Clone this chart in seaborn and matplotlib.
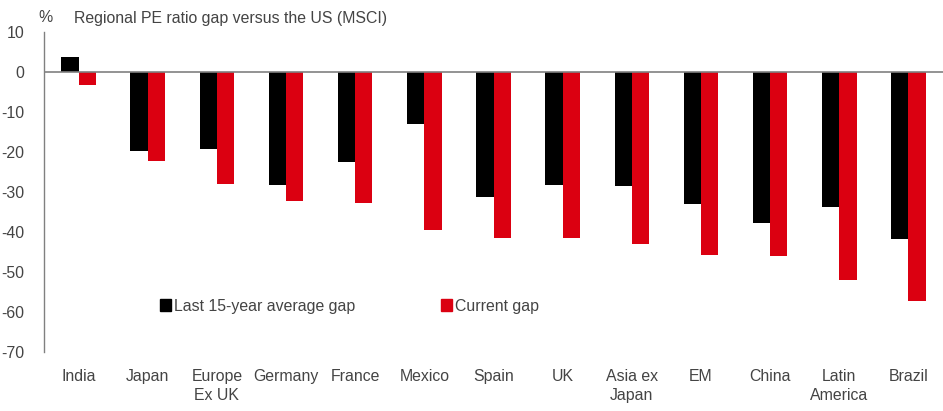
import matplotlib
matplotlib.use("Agg")
import matplotlib.pyplot as plt
import matplotlib.patches as mpatches
import seaborn as sns
import pandas as pd

categories = ["India", "Japan", "Europe\nEx UK", "Germany", "France", "Mexico", "Spain",
              "UK", "Asia ex\nJapan", "EM", "China", "Latin\nAmerica", "Brazil"]
avg_gap = [3.8, -19.8, -19.3, -28.3, -22.5, -12.9, -31.2, -28.3, -28.4, -33.0, -37.8, -33.8, -41.8]
current_gap = [-3.3, -22.3, -27.9, -32.2, -32.8, -39.4, -41.4, -41.5, -43.0, -45.7, -45.9, -52.0, -57.3]
series_names = ["Last 15-year average gap", "Current gap"]
yticks = [10, 0, -10, -20, -30, -40, -50, -60, -70]

df = pd.DataFrame({
    "category": categories * 2,
    "value": avg_gap + current_gap,
    "series": [series_names[0]] * len(categories) + [series_names[1]] * len(categories),
})

sns.set_theme(style="white")
plt.rcParams["font.family"] = ["Liberation Sans", "DejaVu Sans"]
text_color = "#444444"
fs = 11.4
colors = {series_names[0]: "#000000", series_names[1]: "#DB0011"}

fig = plt.figure(figsize=(9.43, 4.11), dpi=100)
ax = fig.add_axes([44 / 943, 1 - 352 / 411, 1 - 44 / 943, 320 / 411])

sns.barplot(data=df, x="category", y="value", hue="series", order=categories,
            hue_order=series_names, palette=colors, width=0.5, dodge=True,
            saturation=1, ax=ax, legend=False, linewidth=0, errorbar=None)

ax.set_xlim(-0.5, len(categories) - 0.5)
ax.set_ylim(-70, 10)
ax.set_yticks(yticks)
ax.set_yticklabels([str(t) for t in yticks])
ax.axhline(0, color="#808080", lw=1.2, zorder=3)
for s in ["top", "right", "bottom"]:
    ax.spines[s].set_visible(False)
ax.spines["left"].set_color("#808080")
ax.spines["left"].set_linewidth(1.0)
ax.tick_params(axis="y", length=0, pad=14, labelsize=fs, labelcolor=text_color)
ax.tick_params(axis="x", length=0, pad=12, labelsize=fs, labelcolor=text_color)
for lab in ax.get_xticklabels():
    lab.set_linespacing(1.4)
ax.set_xlabel("")
ax.set_ylabel("")

fig.text(38 / 943, 1 - 18 / 411, "%", fontsize=fs, color=text_color, va="center", ha="left")
fig.text(74 / 943, 1 - 18 / 411, "Regional PE ratio gap versus the US (MSCI)", fontsize=fs,
         color=text_color, va="center", ha="left")

handles = [mpatches.Patch(color=colors[n], label=n) for n in series_names]
leg = fig.legend(handles=handles, loc="center left", bbox_to_anchor=(160 / 943, 1 - 306 / 411),
                 ncol=2, frameon=False, fontsize=fs, handlelength=0.7, handleheight=0.7,
                 handletextpad=0.2, columnspacing=5.4, borderpad=0, borderaxespad=0)
for t in leg.get_texts():
    t.set_color(text_color)

fig.savefig("out.png", dpi=100)
